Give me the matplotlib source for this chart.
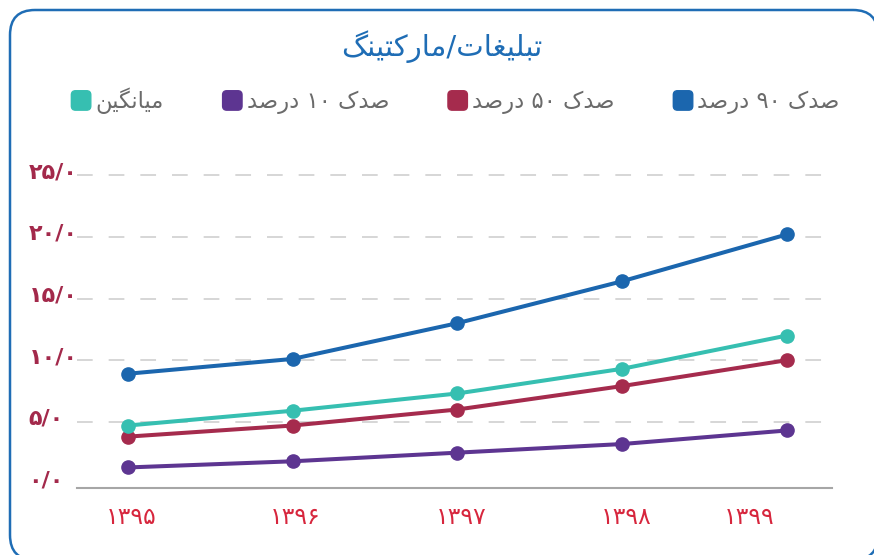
import re
import matplotlib
matplotlib.use("Agg")
import matplotlib.pyplot as plt
import matplotlib.transforms as mtransforms
from matplotlib.patches import FancyBboxPatch, Patch
from matplotlib.legend_handler import HandlerPatch

plt.rcParams["font.family"] = ["DejaVu Sans"]
plt.rcParams["lines.scale_dashes"] = False

# data
years = [1395, 1396, 1397, 1398, 1399]
p90 = [8.9, 10.1, 13.0, 16.4, 20.2]
p50 = [3.8, 4.7, 6.0, 7.9, 10.0]
p10 = [1.3, 1.8, 2.5, 3.2, 4.3]
mean = [4.7, 5.9, 7.3, 9.3, 12.0]
yticks = [0, 5, 10, 15, 20, 25]

title = "تبلیغات/مارکتینگ"
names = ["صدک ۹۰ درصد", "صدک ۵۰ درصد", "صدک ۱۰ درصد", "میانگین"]
colors = ["#1b66ae", "#a52b4d", "#5d3591", "#36bfb1"]

# arabic letter forms: isolated, final, initial, medial
FORMS = {
    "ا": ("\uFE8D", "\uFE8E", None, None),
    "ب": ("\uFE8F", "\uFE90", "\uFE91", "\uFE92"),
    "ت": ("\uFE95", "\uFE96", "\uFE97", "\uFE98"),
    "د": ("\uFEA9", "\uFEAA", None, None),
    "ر": ("\uFEAD", "\uFEAE", None, None),
    "ص": ("\uFEB9", "\uFEBA", "\uFEBB", "\uFEBC"),
    "غ": ("\uFECD", "\uFECE", "\uFECF", "\uFED0"),
    "ل": ("\uFEDD", "\uFEDE", "\uFEDF", "\uFEE0"),
    "م": ("\uFEE1", "\uFEE2", "\uFEE3", "\uFEE4"),
    "ن": ("\uFEE5", "\uFEE6", "\uFEE7", "\uFEE8"),
    "ک": ("\uFB8E", "\uFB8F", "\uFB90", "\uFB91"),
    "گ": ("\uFB92", "\uFB93", "\uFB94", "\uFB95"),
    "ی": ("\uFBFC", "\uFBFD", "\uFBFE", "\uFBFF"),
}


def shape(text):
    out = []
    for i, ch in enumerate(text):
        if ch not in FORMS:
            out.append(ch)
            continue
        prev = text[i - 1] if i > 0 else ""
        nxt = text[i + 1] if i + 1 < len(text) else ""
        join_prev = prev in FORMS and FORMS[prev][2] is not None
        join_next = FORMS[ch][2] is not None and nxt in FORMS
        iso, fin, ini, med = FORMS[ch]
        if join_prev and join_next:
            out.append(med)
        elif join_prev:
            out.append(fin)
        elif join_next:
            out.append(ini)
        else:
            out.append(iso)
    return "".join(out)


def rtl(text):
    s = shape(text)[::-1]
    return re.sub("[۰-۹]+", lambda m: m.group(0)[::-1], s)


def fa_num(s):
    return s.translate(str.maketrans("0123456789.", "۰۱۲۳۴۵۶۷۸۹/"))


W, H = 874, 555
fig = plt.figure(figsize=(W / 100, H / 100), dpi=100)

# rounded frame in pixels from the bottom-left; filled so agg doesn't clip the
# parts that run past the canvas edge
frame = FancyBboxPatch((10, -5), 868, 550,
                       boxstyle="round,pad=0,rounding_size=25",
                       transform=mtransforms.IdentityTransform(),
                       facecolor="white", edgecolor="#1f6db5", linewidth=1.8,
                       zorder=-1)
fig.patches.append(frame)

ax = fig.add_axes([77 / W, 1 - 488.3 / H, 755 / W, 320.5 / H])
ax.patch.set_alpha(0)
x = list(range(len(years)))
series = [p90, p50, p10, mean]
for vals, c in zip(series, colors):
    ax.plot(x, vals, color=c, lw=2.9, marker="o", ms=9.5, solid_capstyle="round")

ax.set_xlim(-0.308, 4.273)
ax.set_ylim(-0.39, 25.6)

for s in ["top", "right", "left"]:
    ax.spines[s].set_visible(False)
ax.spines["bottom"].set_color("#a6a6a6")
ax.spines["bottom"].set_linewidth(1.5)

ax.set_yticks(yticks)
ax.set_yticklabels([fa_num(f"{v:.1f}") for v in yticks])
ax.yaxis.grid(True, color="#cccccc", lw=1.1, linestyle=(0, (11.3, 11.5)))
ax.yaxis.get_major_ticks()[0].gridline.set_visible(False)
ax.tick_params(axis="y", length=0, pad=35, labelsize=16, labelcolor="#a3294b")
up = mtransforms.ScaledTranslation(0, 5 / 100, fig.dpi_scale_trans)
for lab in ax.get_yticklabels():
    lab.set_horizontalalignment("left")
    lab.set_fontweight("bold")
    lab.set_transform(lab.get_transform() + up)

ax.set_xticks(x)
ax.set_xticklabels([fa_num(str(y)) for y in years])
ax.tick_params(axis="x", length=0, pad=12, labelsize=17, labelcolor="#d7263d")
shifts = [3, 3, 4, 4, -38]
for lab, dx in zip(ax.get_xticklabels(), shifts):
    lab.set_transform(lab.get_transform() +
                      mtransforms.ScaledTranslation(dx / 100, 0, fig.dpi_scale_trans))

fig.text(442 / W, 1 - 47 / H, rtl(title), ha="center", va="center",
         fontsize=21, color="#1f6db5")


def rounded_square(legend, orig_handle, xdescent, ydescent, width, height, fontsize):
    size = 14
    return FancyBboxPatch((width - size - xdescent, -ydescent + (height - size) / 2),
                          size, size, boxstyle="round,pad=0,rounding_size=3")


order = [3, 2, 1, 0]
handles = [Patch(color=colors[i]) for i in order]
labels = [rtl(names[i]) for i in order]
fig.legend(handles, labels, loc="center", bbox_to_anchor=(455.5 / W, 1 - 101 / H),
           ncol=4, frameon=False, fontsize=16.3, labelcolor="#6b6b6b",
           handlelength=0.86, handleheight=0.86, handletextpad=0.2,
           columnspacing=2.6,
           handler_map={Patch: HandlerPatch(patch_func=rounded_square)})

fig.savefig("out.png", dpi=100)
